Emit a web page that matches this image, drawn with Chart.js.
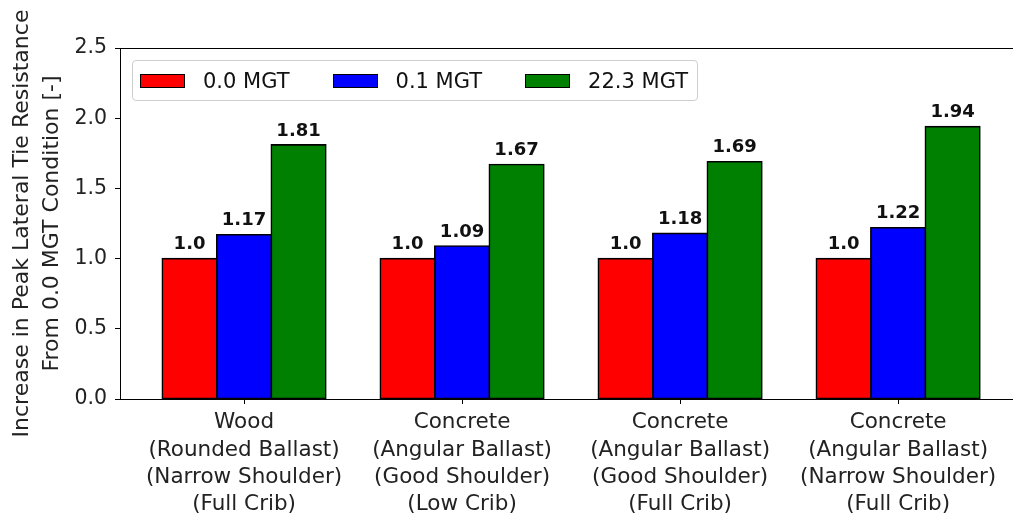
<!DOCTYPE html>
<html>
<head>
<meta charset="utf-8">
<script src="https://cdn.jsdelivr.net/npm/chart.js@4"></script>
<style>
  html, body { margin: 0; padding: 0; background: #fff; overflow: hidden; }
  #wrap { position: relative; width: 1013px; height: 514px; }
  #legend {
    position: absolute; left: 132px; top: 60px; height: 41px;
    border: 1px solid #cfcfcf; border-radius: 4px; background: rgba(255,255,255,0.85);
    display: flex; align-items: center; padding: 0 9px 0 7px; box-sizing: border-box;
    font-family: "DejaVu Sans", sans-serif; font-size: 21px; color: #111;
  }
  .item { display: flex; align-items: center; margin-right: 43px; }
  .item:last-child { margin-right: 0; }
  .patch { width: 43px; height: 12px; border: 1.5px solid #000; margin-right: 18px; }
</style>
</head>
<body>
<div id="wrap">
  <canvas id="c" width="1013" height="514"></canvas>
  <div id="legend"></div>
</div>
<script>
const categories = [
  ["Wood", "(Rounded Ballast)", "(Narrow Shoulder)", "(Full Crib)"],
  ["Concrete", "(Angular Ballast)", "(Good Shoulder)", "(Low Crib)"],
  ["Concrete", "(Angular Ballast)", "(Good Shoulder)", "(Full Crib)"],
  ["Concrete", "(Angular Ballast)", "(Narrow Shoulder)", "(Full Crib)"]
];
const seriesNames = ["0.0 MGT", "0.1 MGT", "22.3 MGT"];
const seriesColors = ["#ff0000", "#0000ff", "#008000"];
const mgt00 = [1.0, 1.0, 1.0, 1.0];
const mgt01 = [1.17, 1.09, 1.18, 1.22];
const mgt223 = [1.81, 1.67, 1.69, 1.94];
const yTicks = [0.0, 0.5, 1.0, 1.5, 2.0, 2.5];
const yTitle = ["Increase in Peak Lateral Tie Resistance", "From 0.0 MGT Condition [-]"];

const seriesValues = [mgt00, mgt01, mgt223];
const FONT = "DejaVu Sans";

const datasets = seriesValues.map((vals, si) => ({
  label: seriesNames[si],
  data: vals.map((v, i) => ({ x: i, y: v })),
  backgroundColor: seriesColors[si],
  borderColor: "#000",
  borderWidth: 1.6,
  borderSkipped: false,
  inflateAmount: 0.8,
  categoryPercentage: 0.75,
  barPercentage: 1.0
}));

const valueLabels = {
  id: "valueLabels",
  afterDatasetsDraw(chart) {
    const ctx = chart.ctx;
    ctx.save();
    ctx.font = "bold 18px '" + FONT + "'";
    ctx.fillStyle = "#111";
    ctx.textAlign = "center";
    ctx.textBaseline = "bottom";
    chart.data.datasets.forEach((ds, di) => {
      const meta = chart.getDatasetMeta(di);
      meta.data.forEach((bar, i) => {
        const v = ds.data[i].y;
        const txt = Number.isInteger(v) ? v.toFixed(1) : String(v);
        ctx.fillText(txt, bar.x, bar.y - 5);
      });
    });
    ctx.restore();
  }
};

const topSpine = {
  id: "topSpine",
  afterDraw(chart) {
    const a = chart.chartArea, ctx = chart.ctx;
    ctx.save();
    ctx.strokeStyle = "#000";
    ctx.lineWidth = 1;
    ctx.beginPath();
    ctx.moveTo(a.left, a.top + 0.5);
    ctx.lineTo(a.right + 2, a.top + 0.5);
    ctx.stroke();
    ctx.restore();
  }
};

const chart = new Chart(document.getElementById("c"), {
  type: "bar",
  data: { datasets },
  options: {
    responsive: false,
    devicePixelRatio: 1,
    animation: false,
    layout: { padding: { top: 48, left: 0, right: 0, bottom: 0 } },
    plugins: {
      legend: { display: false },
      tooltip: { enabled: false }
    },
    scales: {
      x: {
        type: "linear",
        min: -0.569,
        max: 3.527,
        offset: false,
        afterFit(s) { s.height = 115; },
        afterBuildTicks(s) { s.ticks = categories.map((_, i) => ({ value: i })); },
        ticks: {
          autoSkip: false,
          maxRotation: 0,
          padding: 5,
          color: "#222",
          font: { family: FONT, size: 21.5, lineHeight: 1.27 },
          callback: (v) => categories[v]
        },
        grid: { display: true, offset: false, drawOnChartArea: false, drawTicks: true, tickLength: 5, color: "#000" },
        border: { display: true, color: "#000", width: 1 }
      },
      y: {
        min: 0,
        max: 2.5,
        afterFit(s) { s.width = 120; },
        afterBuildTicks(s) { s.ticks = yTicks.map(v => ({ value: v })); },
        ticks: {
          padding: 8,
          color: "#222",
          font: { family: FONT, size: 20.5 },
          callback: (v) => Number(v).toFixed(1)
        },
        title: {
          display: true,
          text: yTitle,
          color: "#222",
          padding: { top: 6.5, bottom: 0 },
          font: { family: FONT, size: 22, lineHeight: 1.4 }
        },
        grid: { display: true, offset: false, drawOnChartArea: false, drawTicks: true, tickLength: 5, color: "#000" },
        border: { display: true, color: "#000", width: 1 }
      }
    }
  },
  plugins: [valueLabels, topSpine]
});

const lg = document.getElementById("legend");
chart.data.datasets.forEach(ds => {
  const it = document.createElement("div");
  it.className = "item";
  const p = document.createElement("div");
  p.className = "patch";
  p.style.background = ds.backgroundColor;
  const t = document.createElement("span");
  t.textContent = ds.label;
  it.appendChild(p); it.appendChild(t);
  lg.appendChild(it);
});
</script>
</body>
</html>
